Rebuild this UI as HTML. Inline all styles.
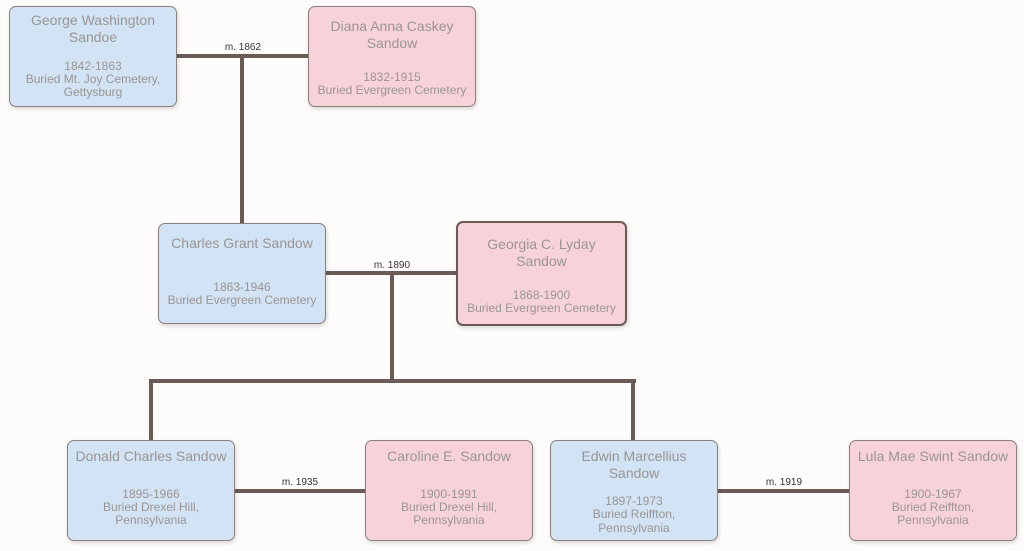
<!DOCTYPE html>
<html><head><meta charset="utf-8"><style>
body{margin:0;width:1024px;height:551px;background:#fdfcfb;position:relative;overflow:hidden;font-family:"Liberation Sans",sans-serif}
.b{position:absolute;box-sizing:border-box;border:1px solid #8a7f7b;border-radius:7px;box-shadow:1px 2px 4px rgba(0,0,0,.15)}
.m{background:#d1e3f4}.f{background:#f7d3d9}
.t{position:absolute;left:0;right:0;text-align:center;color:#9a9593;white-space:nowrap}
.n{font-size:14px;height:18px;line-height:18px}
.d{font-size:12px;height:14px;line-height:14px}
.h{position:absolute;background:#6b5b57;height:4px}
.v{position:absolute;background:#6b5b57;width:4px}
.l{position:absolute;font-size:10px;color:#333;text-align:center;width:60px}
</style></head><body>
<div class="h" style="left:177px;top:54px;width:131px"></div>
<div class="v" style="left:240px;top:54px;height:170px"></div>
<div class="l" style="left:213px;top:42px">m. 1862</div>
<div class="h" style="left:326px;top:271px;width:130px"></div>
<div class="v" style="left:390px;top:271px;height:112px"></div>
<div class="l" style="left:362px;top:260px">m. 1890</div>
<div class="h" style="left:149px;top:379px;width:487px"></div>
<div class="v" style="left:149px;top:379px;height:62px"></div>
<div class="v" style="left:631px;top:379px;height:62px"></div>
<div class="h" style="left:235px;top:489px;width:130px"></div>
<div class="l" style="left:270px;top:477px">m. 1935</div>
<div class="h" style="left:718px;top:489px;width:131px"></div>
<div class="l" style="left:754px;top:477px">m. 1919</div>

<div class="b m" style="left:9px;top:6px;width:168px;height:101px">
<div class="t n" style="top:4px">George Washington</div><div class="t n" style="top:21px">Sandoe</div>
<div class="t d" style="top:52px">1842-1863</div><div class="t d" style="top:65px">Buried Mt. Joy Cemetery,</div><div class="t d" style="top:78px">Gettysburg</div></div>
<div class="b f" style="left:308px;top:6px;width:168px;height:101px">
<div class="t n" style="top:10px">Diana Anna Caskey</div><div class="t n" style="top:27px">Sandow</div>
<div class="t d" style="top:63px">1832-1915</div><div class="t d" style="top:76px">Buried Evergreen Cemetery</div></div>

<div class="b m" style="left:158px;top:223px;width:168px;height:101px">
<div class="t n" style="top:10px">Charles Grant Sandow</div>
<div class="t d" style="top:56px">1863-1946</div><div class="t d" style="top:69px">Buried Evergreen Cemetery</div></div>
<div class="b f" style="left:456px;top:221px;width:171px;height:105px;border:2px solid #6b5b57">
<div class="t n" style="top:12px">Georgia C. Lyday</div><div class="t n" style="top:29px">Sandow</div>
<div class="t d" style="top:65px">1868-1900</div><div class="t d" style="top:78px">Buried Evergreen Cemetery</div></div>

<div class="b m" style="left:67px;top:440px;width:168px;height:101px">
<div class="t n" style="top:6px">Donald Charles Sandow</div>
<div class="t d" style="top:46px">1895-1966</div><div class="t d" style="top:59px">Buried Drexel Hill,</div><div class="t d" style="top:72px">Pennsylvania</div></div>
<div class="b f" style="left:365px;top:440px;width:168px;height:101px">
<div class="t n" style="top:6px">Caroline E. Sandow</div>
<div class="t d" style="top:46px">1900-1991</div><div class="t d" style="top:59px">Buried Drexel Hill,</div><div class="t d" style="top:72px">Pennsylvania</div></div>
<div class="b m" style="left:550px;top:440px;width:168px;height:101px">
<div class="t n" style="top:6px">Edwin Marcellius</div><div class="t n" style="top:23px">Sandow</div>
<div class="t d" style="top:53px">1897-1973</div><div class="t d" style="top:66px">Buried Reiffton,</div><div class="t d" style="top:80px">Pennsylvania</div></div>
<div class="b f" style="left:849px;top:440px;width:168px;height:101px">
<div class="t n" style="top:6px">Lula Mae Swint Sandow</div>
<div class="t d" style="top:46px">1900-1967</div><div class="t d" style="top:59px">Buried Reiffton,</div><div class="t d" style="top:72px">Pennsylvania</div></div>
</body></html>
